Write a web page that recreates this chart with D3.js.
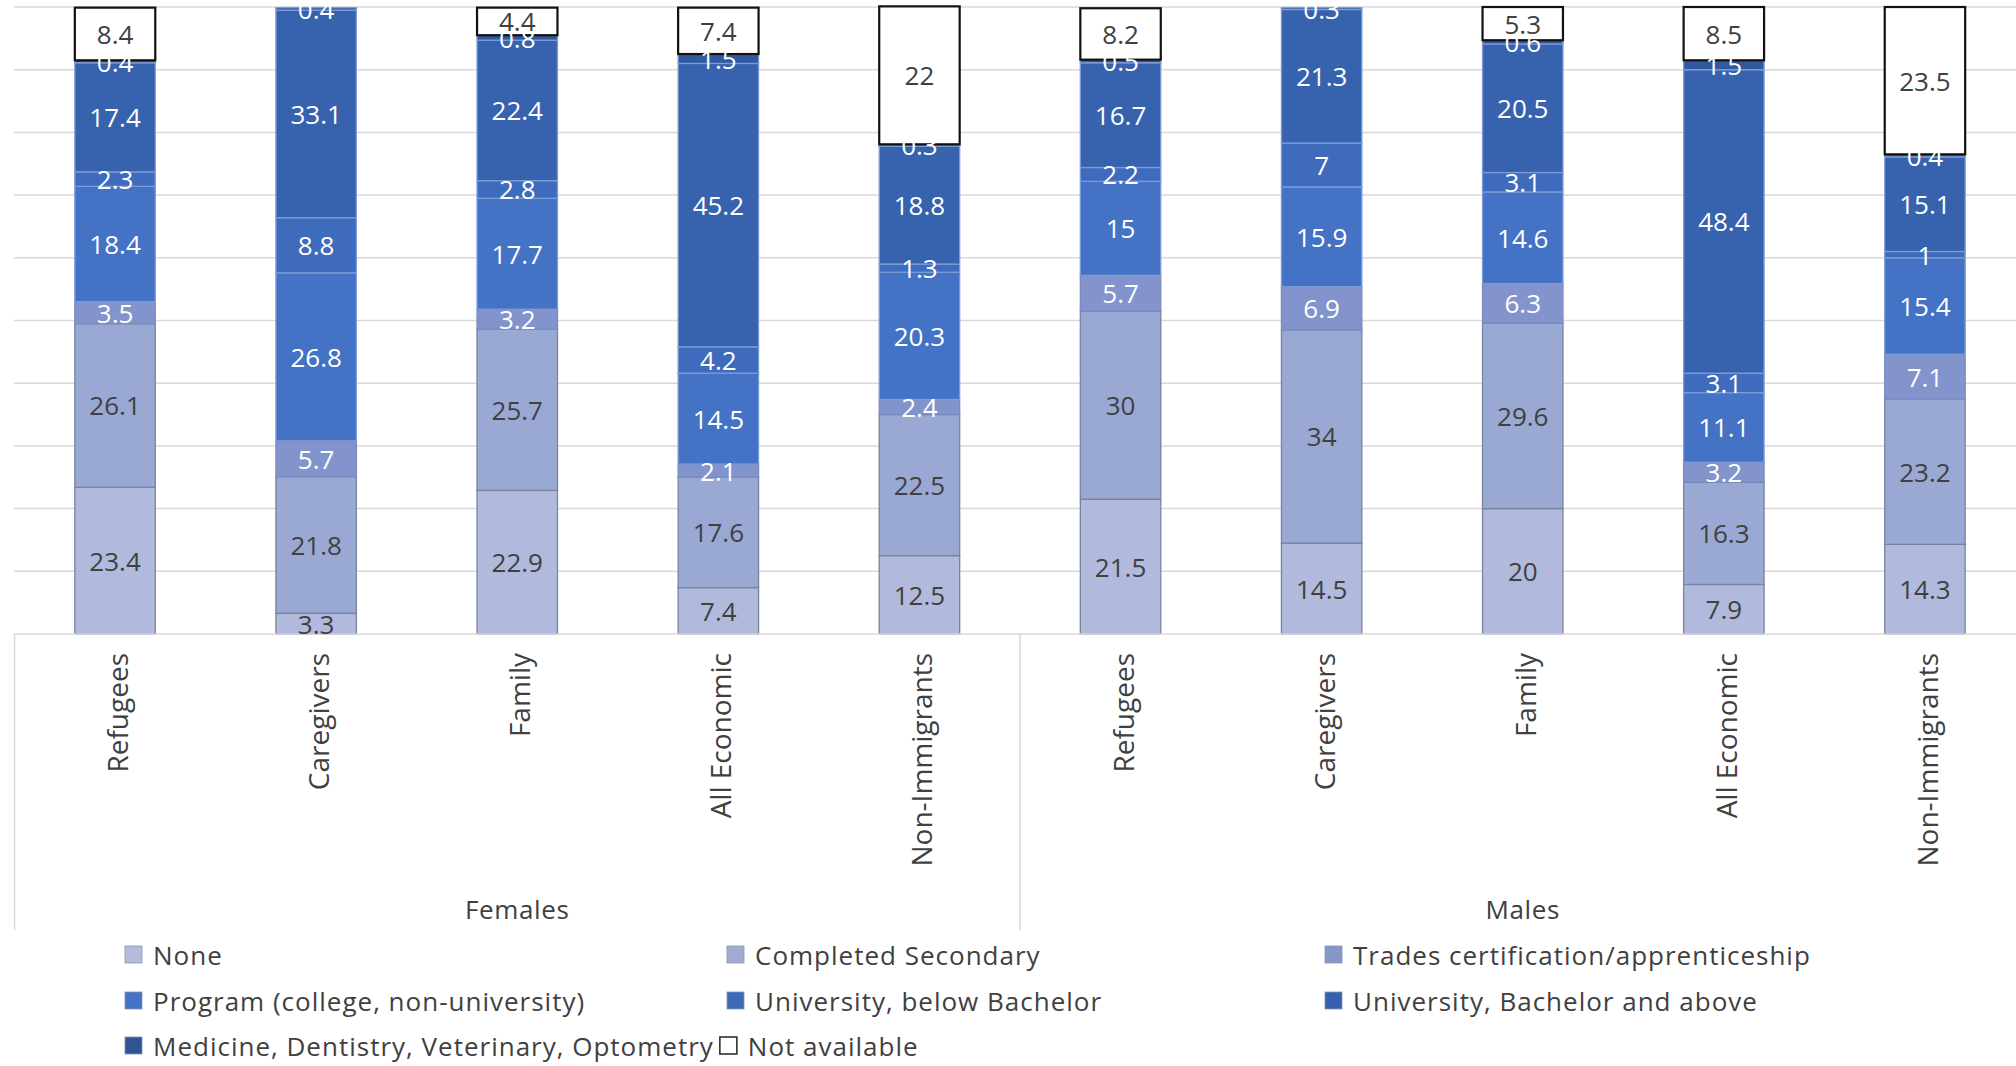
<!DOCTYPE html>
<html>
<head>
<meta charset="utf-8">
<script src="https://cdn.jsdelivr.net/npm/d3@7"></script>
<style>
  html, body { margin: 0; padding: 0; background: #ffffff; }
  svg { display: block; }
  text { font-family: "Open Sans", "Noto Sans", sans-serif; }
</style>
</head>
<body>
<svg id="chart" width="2016" height="1066"></svg>
<script>
// Highest level of education by admission category and sex (%)
const groups = ["Females", "Males"];
const categories = ["Refugees", "Caregivers", "Family", "All Economic", "Non-Immigrants"];

const seriesNames = [
  "None",
  "Completed Secondary",
  "Trades certification/apprenticeship",
  "Program (college, non-university)",
  "University, below Bachelor",
  "University, Bachelor and above",
  "Medicine, Dentistry, Veterinary, Optometry",
  "Not available"
];

// Values: Females (5 categories) then Males (5 categories)
const none               = [23.4,  3.3, 22.9,  7.4, 12.5, 21.5, 14.5, 20.0,  7.9, 14.3];
const completedSecondary = [26.1, 21.8, 25.7, 17.6, 22.5, 30.0, 34.0, 29.6, 16.3, 23.2];
const trades             = [ 3.5,  5.7,  3.2,  2.1,  2.4,  5.7,  6.9,  6.3,  3.2,  7.1];
const program            = [18.4, 26.8, 17.7, 14.5, 20.3, 15.0, 15.9, 14.6, 11.1, 15.4];
const uniBelowBachelor   = [ 2.3,  8.8,  2.8,  4.2,  1.3,  2.2,  7.0,  3.1,  3.1,  1.0];
const uniBachelorAbove   = [17.4, 33.1, 22.4, 45.2, 18.8, 16.7, 21.3, 20.5, 48.4, 15.1];
const medicine           = [ 0.4,  0.4,  0.8,  1.5,  0.3,  0.5,  0.3,  0.6,  1.5,  0.4];
const notAvailable       = [ 8.4,  0.0,  4.4,  7.4, 22.0,  8.2,  0.0,  5.3,  8.5, 23.5];

const seriesValues = [none, completedSecondary, trades, program,
                      uniBelowBachelor, uniBachelorAbove, medicine, notAvailable];

const yTicks = [0, 10, 20, 30, 40, 50, 60, 70, 80, 90, 100];

// Styling per series
const fills   = ["#b1badc", "#9aa8d4", "#8294cb", "#4472c4", "#3e6bbc", "#3762ae", "#31599f", "#ffffff"];
const strokes = ["#78839f", "#78839f", "#7a8bc0", "#7d9bd8", "#7d9bd8", "#7d9bd8", "#7d9bd8", "#111111"];
const strokeW = [1.3, 1.3, 1.3, 1.3, 1.3, 1.3, 1.3, 2.2];
const labelColors = ["#404040", "#404040", "#ffffff", "#ffffff", "#ffffff", "#ffffff", "#ffffff", "#404040"];
const swatchFills = ["#b4bcdc", "#a0acd4", "#8696ca", "#4472c4", "#3a6ab8", "#3560ad", "#2e5596", "#ffffff"];

// Build rows for stacking
const rows = d3.range(groups.length * categories.length).map(i => {
  const row = { idx: i };
  seriesNames.forEach((s, k) => { row[s] = seriesValues[k][i]; });
  return row;
});

const W = 2016, H = 1066;
const svg = d3.select("#chart");

const x = d3.scaleBand()
  .domain(rows.map(r => r.idx))
  .range([14.5, 2025.5])
  .paddingInner(0.6)
  .paddingOuter(0.3);

const y = d3.scaleLinear().domain([0, 100]).range([634, 7]);

// Gridlines
svg.append("g").selectAll("line")
  .data(yTicks.filter(t => t > 0))
  .join("line")
  .attr("x1", 14).attr("x2", W)
  .attr("y1", d => y(d)).attr("y2", d => y(d))
  .attr("stroke", "#d9d9d9").attr("stroke-width", 1.5);

// Stacked bars
const stack = d3.stack().keys(seriesNames);
const layers = stack(rows);

const layerG = svg.append("g").selectAll("g")
  .data(layers)
  .join("g");

layerG.selectAll("rect")
  .data(d => d.map(p => ({ p, k: d.index })).filter(d => d.p[1] - d.p[0] > 0))
  .join("rect")
  .attr("x", d => x(d.p.data.idx))
  .attr("width", x.bandwidth())
  .attr("y", d => y(d.p[1]))
  .attr("height", d => y(d.p[0]) - y(d.p[1]))
  .attr("fill", d => fills[d.k])
  .attr("stroke", d => strokes[d.k])
  .attr("stroke-width", d => strokeW[d.k]);

// Category axis line
svg.append("line")
  .attr("x1", 14).attr("x2", W)
  .attr("y1", y(0)).attr("y2", y(0))
  .attr("stroke", "#d9d9d9").attr("stroke-width", 1.5);

// Value labels
svg.append("g").selectAll("g")
  .data(layers)
  .join("g")
  .selectAll("text")
  .data(d => d.map(p => ({ p, k: d.index })).filter(d => d.p[1] - d.p[0] > 0))
  .join("text")
  .attr("x", d => x(d.p.data.idx) + x.bandwidth() / 2)
  .attr("y", d => y((d.p[0] + d.p[1]) / 2))
  .attr("text-anchor", "middle")
  .attr("dominant-baseline", "central")
  .attr("font-size", 26)
  .attr("fill", d => labelColors[d.k])
  .text(d => d3.format("~g")(+(d.p[1] - d.p[0]).toFixed(1)));

// Category labels (rotated)
svg.append("g").selectAll("text")
  .data(rows)
  .join("text")
  .attr("transform", d => `translate(${x(d.idx) + x.bandwidth() / 2 + 13},653) rotate(-90)`)
  .attr("text-anchor", "end")
  .attr("font-size", 28)
  .attr("fill", "#404040")
  .text(d => categories[d.idx % categories.length]);

// Group separators and labels
const step = x.step();
const groupBounds = [x.range()[0], x(4) + x.bandwidth() / 2 + step / 2, x.range()[1]];
svg.append("g").selectAll("line")
  .data(groupBounds)
  .join("line")
  .attr("x1", d => d).attr("x2", d => d)
  .attr("y1", y(0)).attr("y2", 930)
  .attr("stroke", "#d9d9d9").attr("stroke-width", 1.5);

svg.append("g").selectAll("text")
  .data(groups)
  .join("text")
  .attr("x", (d, i) => (x(i * 5) + x(i * 5 + 4) + x.bandwidth()) / 2)
  .attr("y", 909)
  .attr("text-anchor", "middle")
  .attr("dominant-baseline", "central")
  .attr("font-size", 26)
  .attr("letter-spacing", 0.6)
  .attr("fill", "#404040")
  .text(d => d);

// Legend
const legendCols = [125, 727, 1325];
const legendRows = [955, 1001, 1046];
const legend = svg.append("g");
const legendItems = seriesNames.map((name, k) => ({ name, k }));
const placed = [];
legendItems.forEach((it, n) => {
  let lx, ly;
  if (n < 7) {
    lx = legendCols[n % 3];
    ly = legendRows[Math.floor(n / 3)];
  } else {
    const prev = placed[6];
    lx = prev.x + 28 + prev.len + 6;
    ly = legendRows[2];
  }
  const g = legend.append("g").attr("transform", `translate(${lx},${ly})`);
  g.append("rect")
    .attr("x", 0).attr("y", -9).attr("width", 17).attr("height", 17)
    .attr("fill", swatchFills[it.k])
    .attr("stroke", it.k === 7 ? "#222222" : "#8a93ad")
    .attr("stroke-width", it.k === 7 ? 1.5 : 0.8);
  const t = g.append("text")
    .attr("x", 28).attr("y", 0)
    .attr("dominant-baseline", "central")
    .attr("font-size", 26)
    .attr("letter-spacing", 1)
    .attr("fill", "#404040")
    .text(it.name);
  placed.push({ x: lx, len: t.node().getComputedTextLength() });
});
</script>
</body>
</html>
